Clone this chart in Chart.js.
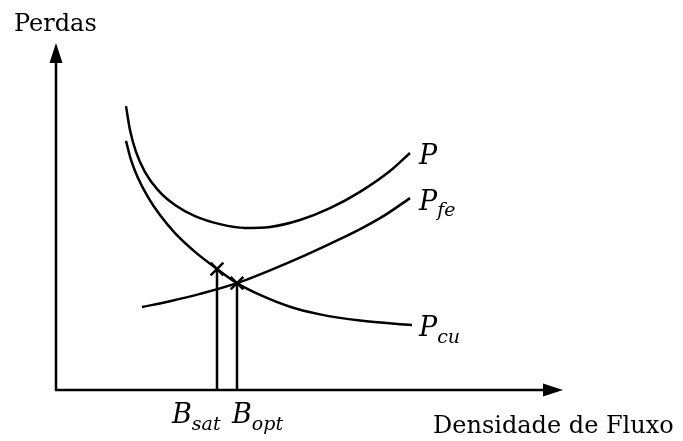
<!DOCTYPE html>
<html>
<head>
<meta charset="utf-8">
<script src="https://cdn.jsdelivr.net/npm/chart.js@4/dist/chart.umd.min.js"></script>
<style>
html,body{margin:0;padding:0;background:#fff;}
</style>
</head>
<body>
<canvas id="grafico" width="683" height="441"></canvas>
<script>
// curvas (unidades arbitrarias: x 0~101.4, y 0~100)
var curvaP_x   = [14.0, 14.8, 16.0, 17.8, 20.4, 23.8, 27.8, 32.8, 37.8, 42.8, 48.8, 54.8, 60.8, 66.8, 70.8];
var curvaP_y   = [81.8, 74.9, 68.6, 62.8, 57.6, 53.3, 50.1, 47.8, 46.7, 47.0, 49.0, 52.4, 57.1, 63.1, 68.3];
var curvaCu_x  = [14.0, 15.0, 16.4, 18.4, 20.8, 23.8, 27.8, 32.2, 36.2, 40.8, 46.8, 52.8, 60.8, 71.2];
var curvaCu_y  = [71.8, 66.3, 61.1, 55.6, 50.4, 45.2, 39.8, 34.9, 30.8, 27.4, 24.0, 21.8, 20.0, 18.7];
var curvaFe_x  = [17.2, 22.8, 28.8, 36.2, 42.8, 49.8, 57.4, 61.4, 65.8, 70.8];
var curvaFe_y  = [23.9, 25.6, 27.7, 30.8, 34.5, 38.8, 43.9, 46.8, 50.4, 55.3];
// pontos marcados (Bsat, Bopt)
var marcas_x = [32.2, 36.2];
var marcas_y = [34.9, 30.8];
var marcas_nome = ["sat", "opt"];

function pontos(xs, ys){
    var r = [];
    for (var i = 0; i < xs.length; i++) r.push({x: xs[i], y: ys[i]});
    return r;
}

var serif = '"DejaVu Serif", serif';

function textoSub(ctx, base, sub, x, y, tam){
    ctx.font = "italic " + tam + "px " + serif;
    ctx.fillText(base, x, y);
    var w = ctx.measureText(base).width;
    ctx.font = "italic " + Math.round(tam * 0.7) + "px " + serif;
    ctx.fillText(sub, x + w, y + tam * 0.25);
}

// eixos com setas e textos
var desenhoExtra = {
    id: "desenhoExtra",
    afterDraw: function(chart){
        var ctx = chart.ctx;
        var sx = chart.scales.x, sy = chart.scales.y;
        var x0 = sx.getPixelForValue(0), y0 = sy.getPixelForValue(0);
        var xTopo = sy.getPixelForValue(100), xFim = sx.getPixelForValue(101.4);
        ctx.save();
        ctx.strokeStyle = "#000";
        ctx.fillStyle = "#000";
        ctx.lineWidth = 2.5;
        ctx.beginPath();
        ctx.moveTo(x0, y0); ctx.lineTo(x0, xTopo + 15);
        ctx.moveTo(x0 - 1, y0); ctx.lineTo(xFim - 15, y0);
        ctx.stroke();
        // setas
        ctx.beginPath();
        ctx.moveTo(x0, xTopo); ctx.lineTo(x0 - 6.5, xTopo + 20); ctx.lineTo(x0 + 6.5, xTopo + 20); ctx.closePath();
        ctx.fill();
        ctx.beginPath();
        ctx.moveTo(xFim, y0); ctx.lineTo(xFim - 20, y0 - 6.5); ctx.lineTo(xFim - 20, y0 + 6.5); ctx.closePath();
        ctx.fill();

        ctx.textBaseline = "alphabetic";
        ctx.textAlign = "left";
        ctx.font = "24px " + serif;
        ctx.fillText("Perdas", 14, 31);
        ctx.fillText("Densidade de Fluxo", 433, 433);

        // rotulos das curvas
        var lx = sx.getPixelForValue(72.6);
        ctx.font = "italic 27px " + serif;
        ctx.fillText("P", lx, sy.getPixelForValue(65));
        textoSub(ctx, "P", "fe", lx, sy.getPixelForValue(52), 27);
        textoSub(ctx, "P", "cu", lx, sy.getPixelForValue(15.5), 27);

        // Bsat, Bopt
        textoSub(ctx, "B", marcas_nome[0], sx.getPixelForValue(marcas_x[0]) - 45, 423, 27);
        textoSub(ctx, "B", marcas_nome[1], sx.getPixelForValue(marcas_x[1]) - 5, 423, 27);
        ctx.restore();
    }
};

var linhas = {
    borderColor: "#000",
    borderWidth: 2.5,
    pointRadius: 0,
    showLine: true,
    fill: false
};

var conjuntos = [
    Object.assign({label: "P", data: pontos(curvaP_x, curvaP_y), cubicInterpolationMode: "monotone"}, linhas),
    Object.assign({label: "Pcu", data: pontos(curvaCu_x, curvaCu_y), cubicInterpolationMode: "monotone"}, linhas),
    Object.assign({label: "Pfe", data: pontos(curvaFe_x, curvaFe_y), cubicInterpolationMode: "monotone"}, linhas)
];
for (var i = 0; i < marcas_x.length; i++){
    conjuntos.push(Object.assign({label: "B" + marcas_nome[i], data: [{x: marcas_x[i], y: 0}, {x: marcas_x[i], y: marcas_y[i]}], tension: 0}, linhas));
}
conjuntos.push({
    label: "marcas",
    data: pontos(marcas_x, marcas_y),
    showLine: false,
    pointStyle: "crossRot",
    pointRadius: 9,
    borderColor: "#000",
    borderWidth: 2.5
});

new Chart(document.getElementById("grafico"), {
    type: "scatter",
    data: {datasets: conjuntos},
    options: {
        responsive: false,
        animation: false,
        layout: {padding: {left: 56, right: 120, top: 43, bottom: 51}},
        scales: {
            x: {type: "linear", min: 0, max: 101.4, display: false},
            y: {type: "linear", min: 0, max: 100, display: false}
        },
        plugins: {
            legend: {display: false},
            tooltip: {enabled: false}
        },
        clip: false
    },
    plugins: [desenhoExtra]
});
</script>
</body>
</html>
